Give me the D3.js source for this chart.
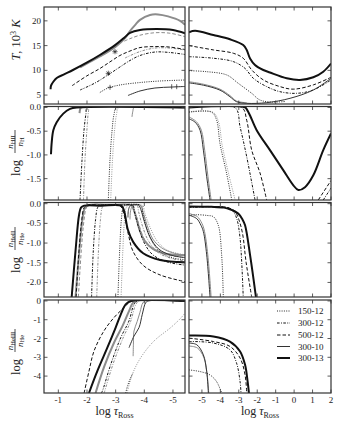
<!DOCTYPE html>
<html><head><meta charset="utf-8">
<script src="https://cdn.jsdelivr.net/npm/d3@7"></script>
<style>body{margin:0;background:#fff}svg{display:block}</style>
</head><body><svg id="c" width="338" height="437"></svg>
<script>
// ---------------- DATA ----------------
const seriesNames = ["150-12","300-12","500-12","300-10","300-13"];
const xTicksLeft = [-1,-2,-3,-4,-5];
const xTicksRight = [-5,-4,-3,-2,-1,0,1,2];
const yTicksT = [5,10,15,20];
const yTicksHII = [0,-0.5,-1,-1.5];
const yTicksHeII = [0,-0.5,-1,-1.5,-2];
const yTicksHeIII = [0,-1,-2,-3,-4];

// each curve: [series, variant, [[log tau, value], ...]]
const tempLeft = [
 ["300-13","alt",[[-1.76,10.6],[-2.1,11.7],[-2.45,12.8],[-2.98,14.7],[-3.33,16.5],[-3.5,17.95],[-3.7,19.3],[-3.85,20.2],[-4.2,21.2],[-4.48,21.3],[-4.83,20.9],[-5.25,20.0],[-5.42,19.2]]],
 ["500-12","alt",[[-3.3,15.9],[-3.5,16.4],[-3.85,17.1],[-4.37,17.6],[-4.9,17.5],[-5.42,16.8]]],
 ["300-12","alt",[[-3.33,12.5],[-3.85,13.8],[-4.37,14.5],[-4.9,14.5],[-5.42,14.1]]],
 ["300-13","main",[[-0.73,6.2],[-0.745,6.9],[-0.825,7.7],[-0.943,8.45],[-1.2,9.2],[-1.51,10.07],[-1.99,11.55],[-2.45,13.1],[-2.98,15.1],[-3.3,16.6],[-3.5,17.55],[-3.85,18.15],[-4.44,18.35],[-5.0,18.15],[-5.42,17.5]]],
 ["500-12","main",[[-1.48,6.9],[-1.99,8.86],[-2.45,10.37],[-2.8,11.7],[-3.15,13.0],[-3.5,13.9],[-3.85,14.6],[-4.37,14.8],[-4.9,14.7],[-5.42,14.2]]],
 ["300-12","main",[[-1.76,6.03],[-2.28,7.44],[-2.73,9.06],[-3.15,10.68],[-3.5,11.99],[-3.85,13.0],[-4.37,13.7],[-4.9,13.6],[-5.42,13.2]]],
 ["150-12","main",[[-2.45,5.52],[-2.73,6.43],[-3.15,7.04],[-3.85,7.54],[-4.55,7.85],[-5.42,8.05]]],
 ["300-10","main",[[-3.43,4.92],[-3.85,5.83],[-4.37,6.43],[-4.97,6.63],[-5.42,6.74]]]
];
const tempRight = [
 ["300-10","alt",[[-5.7,7.7],[-4.92,7.2],[-4.02,6.2],[-3.48,4.9],[-3.12,3.8],[-2.57,3.45]]],
 ["300-13","main",[[-5.7,17.69],[-5.37,18.0],[-4.38,17.14],[-3.48,16.27],[-2.76,15.12],[-2.57,14.1],[-2.39,12.4],[-2.12,11.08],[-1.67,10.07],[-1.31,9.56],[-0.4,8.39],[0.32,8.05],[1.04,8.6],[1.58,9.73],[2.0,11.38]]],
 ["500-12","main",[[-5.7,15.0],[-4.38,14.13],[-3.3,13.46],[-2.76,12.45],[-2.3,10.09],[-1.67,8.07],[-0.77,6.72],[-0.05,6.2],[1.04,7.06],[2.0,8.6]]],
 ["300-12","main",[[-5.7,12.76],[-4.38,12.45],[-3.3,11.77],[-2.67,10.42],[-2.21,8.39],[-1.48,6.7],[-0.77,5.69],[0.14,5.36],[1.04,6.03],[2.0,8.05]]],
 ["150-12","main",[[-5.7,9.93],[-4.74,9.73],[-3.65,9.06],[-3.03,7.38],[-2.3,5.36],[-1.85,4.0],[-1.2,3.6],[-0.5,3.7]]],
 ["300-10","main",[[-5.7,7.47],[-4.92,7.0],[-4.02,6.0],[-3.48,4.67],[-3.12,3.66],[-2.57,3.34],[-1.49,3.47],[-0.22,4.35],[1.04,6.03],[2.0,8.39]]]
];
const hiiLeft = [
 ["300-13","alt",[[-1.74,-0.12],[-1.76,-0.04],[-1.8,0],[-5.42,0]]],
 ["300-12","alt",[[-1.878,-1.95],[-1.93,-1.1],[-2.0,-0.45],[-2.05,-0.1],[-2.1,0],[-5.42,0]]],
 ["150-12","alt",[[-2.827,-1.95],[-2.89,-1.1],[-2.96,-0.5],[-3.03,-0.15],[-3.117,0],[-5.42,0]]],
 ["300-10","alt",[[-3.57,-0.2],[-3.6,-0.08],[-3.65,0],[-5.42,0]]],
 ["300-12","main",[[-1.756,-1.95],[-1.826,-1.11],[-1.896,-0.48],[-1.965,-0.13],[-2.01,0],[-5.42,0]]],
 ["150-12","main",[[-2.744,-1.95],[-2.803,-1.1],[-2.873,-0.5],[-2.943,-0.15],[-3.037,0],[-5.42,0]]],
 ["300-13","main",[[-0.744,-0.985],[-0.77,-0.73],[-0.825,-0.48],[-0.943,-0.31],[-1.173,-0.13],[-1.407,-0.03],[-1.64,0],[-5.42,0]]]
];
const hiiRight = [
 ["150-12","alt",[[-5.7,-0.09],[-4.4,-0.1],[-4.1,-0.3],[-3.9,-0.8],[-3.55,-1.4],[-3.2,-1.95]]],
 ["300-10","alt",[[-5.7,-0.2],[-5.3,-0.3],[-5.03,-0.48],[-4.85,-0.9],[-4.67,-1.46],[-4.5,-1.95]]],
 ["300-10","main",[[-5.7,-0.24],[-5.37,-0.31],[-5.1,-0.48],[-4.92,-0.9],[-4.74,-1.46],[-4.56,-1.95]]],
 ["150-12","main",[[-5.7,-0.1],[-4.47,-0.1],[-4.2,-0.27],[-4.02,-0.76],[-3.66,-1.39],[-3.38,-1.95]]],
 ["300-12","main",[[-5.7,0],[-3.21,0],[-2.93,-0.41],[-2.57,-1.04],[-2.12,-1.95]]],
 ["300-12","main",[[1.58,-1.95],[2.0,-1.7]]],
 ["500-12","main",[[-5.7,0],[-2.84,0],[-2.57,-0.27],[-2.3,-0.9],[-1.85,-1.38],[-1.49,-1.95]]],
 ["500-12","main",[[1.31,-1.95],[2.0,-1.54]]],
 ["300-13","main",[[-5.7,0],[-2.66,0],[-2.55,-0.05],[-2.39,-0.17],[-2.03,-0.48],[-1.31,-0.9],[-0.59,-1.32],[-0.04,-1.64],[0.23,-1.74],[0.59,-1.68],[1.04,-1.43],[1.58,-0.9],[2.0,-0.55]]]
];
const heiiLeft = [
 ["300-13","alt",[[-1.6,-2.37],[-1.72,-1.3],[-1.84,-0.4],[-1.92,-0.12],[-2.05,-0.04],[-2.8,-0.03],[-3.55,-0.04],[-3.6,-0.1],[-3.72,-0.35],[-3.85,-0.7],[-4.02,-0.95],[-4.3,-1.15],[-4.75,-1.27],[-5.42,-1.31]]],
 ["500-12","alt",[[-1.7,-2.37],[-1.8,-1.2],[-1.9,-0.4],[-1.98,-0.1],[-2.1,-0.03],[-2.9,-0.03],[-3.6,-0.04],[-3.65,-0.15],[-3.8,-0.5],[-4.0,-0.9],[-4.3,-1.15],[-4.8,-1.3],[-5.42,-1.37]]],
 ["300-12","alt",[[-2.34,-2.37],[-2.4,-1.2],[-2.47,-0.4],[-2.53,-0.1],[-2.6,-0.04],[-3.2,-0.04],[-3.75,-0.05],[-3.8,-0.2],[-3.95,-0.6],[-4.15,-0.95],[-4.5,-1.25],[-5.0,-1.4],[-5.42,-1.45]]],
 ["150-12","alt",[[-3.19,-2.37],[-3.25,-1.2],[-3.31,-0.4],[-3.37,-0.1],[-3.45,-0.04],[-3.95,-0.05],[-4.0,-0.2],[-4.2,-0.6],[-4.45,-0.95],[-4.8,-1.18],[-5.42,-1.3]]],
 ["300-10","alt",[[-3.5,-0.4],[-3.53,-0.15],[-3.6,-0.05],[-3.85,-0.04],[-3.95,-0.2],[-4.1,-0.55],[-4.3,-0.9],[-4.6,-1.12],[-5.0,-1.25],[-5.42,-1.31]]],
 ["300-10","main",[[-3.43,-0.35],[-3.45,-0.15],[-3.52,-0.05],[-3.8,-0.04],[-3.88,-0.15],[-4.0,-0.45],[-4.2,-0.85],[-4.5,-1.15],[-4.9,-1.3],[-5.42,-1.37]]],
 ["150-12","main",[[-3.08,-2.37],[-3.14,-1.2],[-3.2,-0.4],[-3.26,-0.1],[-3.33,-0.04],[-3.9,-0.05],[-3.95,-0.25],[-4.1,-0.65],[-4.3,-1.0],[-4.6,-1.25],[-5.0,-1.38],[-5.42,-1.42]]],
 ["300-12","main",[[-2.16,-2.37],[-2.22,-1.2],[-2.3,-0.4],[-2.37,-0.1],[-2.45,-0.04],[-3.0,-0.04],[-3.6,-0.05],[-3.65,-0.2],[-3.8,-0.6],[-4.0,-1.0],[-4.3,-1.3],[-4.8,-1.48],[-5.42,-1.56]]],
 ["500-12","main",[[-1.62,-2.37],[-1.72,-1.2],[-1.82,-0.4],[-1.9,-0.1],[-2.0,-0.04],[-2.6,-0.04],[-3.15,-0.05],[-3.3,-0.3],[-3.45,-0.8],[-3.6,-1.2],[-3.95,-1.56],[-4.55,-1.81],[-5.42,-1.98]]],
 ["300-13","main",[[-1.466,-2.37],[-1.6,-1.2],[-1.72,-0.3],[-1.79,-0.1],[-1.9,-0.05],[-2.5,-0.05],[-3.21,-0.06],[-3.3,-0.2],[-3.43,-0.67],[-3.61,-0.97],[-3.96,-1.26],[-4.55,-1.43],[-5.42,-1.49]]]
];
const heiiRight = [
 ["300-10","alt",[[-5.7,-0.25],[-5.25,-0.33],[-5.0,-0.5],[-4.86,-0.7],[-4.68,-1.3],[-4.5,-2.37]]],
 ["300-10","main",[[-5.7,-0.29],[-5.28,-0.38],[-5.05,-0.55],[-4.92,-0.71],[-4.74,-1.3],[-4.56,-2.37]]],
 ["150-12","main",[[-5.7,-0.3],[-5.37,-0.28],[-4.7,-0.3],[-4.38,-0.33],[-4.11,-0.55],[-3.93,-1.3],[-3.84,-2.37]]],
 ["300-12","main",[[-5.7,-0.1],[-3.6,-0.1],[-3.3,-0.2],[-3.11,-0.38],[-2.93,-0.88],[-2.76,-2.37]]],
 ["500-12","main",[[-5.7,-0.08],[-3.6,-0.1],[-3.2,-0.2],[-3.0,-0.4],[-2.8,-0.75],[-2.6,-1.5],[-2.3,-2.37]]],
 ["300-13","main",[[-5.7,-0.07],[-4.5,-0.08],[-3.8,-0.1],[-3.48,-0.14],[-3.03,-0.25],[-2.8,-0.4],[-2.66,-0.55],[-2.39,-1.3],[-2.07,-2.37]]]
];
const heiiiLeft = [
 ["150-12","alt",[[-3.4,-4.9],[-3.58,-3.92],[-3.87,-3.03],[-4.34,-2.13],[-4.92,-1.42],[-5.25,-0.95],[-5.42,-0.65]]],
 ["300-13","alt",[[-2.3,-4.9],[-2.6,-3.5],[-2.95,-2.2],[-3.25,-1.3],[-3.45,-0.6],[-3.6,-0.1],[-3.7,0],[-5.42,0]]],
 ["300-12","alt",[[-2.6,-4.9],[-2.9,-3.4],[-3.25,-2.0],[-3.52,-1.1],[-3.7,-0.2],[-3.82,0],[-5.42,0]]],
 ["300-10","alt",[[-3.61,-2.94],[-3.62,-2.3],[-3.64,-1.6],[-3.75,-1.1],[-3.85,-0.6],[-3.95,-0.1],[-4.05,0],[-5.42,0]]],
 ["300-10","main",[[-3.466,-2.49],[-3.64,-1.87],[-3.815,-1.42],[-3.93,-0.71],[-4.05,-0.09],[-4.15,0],[-5.42,0]]],
 ["150-12","main",[[-3.35,-4.9],[-3.42,-4.5],[-3.52,-4.1],[-3.6,-3.85]]],
 ["300-12","main",[[-2.5,-4.9],[-2.534,-4.81],[-2.827,-3.39],[-3.176,-1.96],[-3.466,-1.06],[-3.64,-0.18],[-3.755,0],[-5.42,0]]],
 ["500-12","main",[[-1.9,-4.9],[-2.07,-3.74],[-2.245,-2.67],[-2.59,-1.6],[-2.94,-0.89],[-3.23,-0.44],[-3.47,-0.09],[-3.6,0],[-5.42,0]]],
 ["300-13","main",[[-2.07,-4.9],[-2.36,-3.74],[-2.71,-2.49],[-3.0,-1.42],[-3.18,-0.71],[-3.35,-0.18],[-3.53,0],[-5.42,0]]]
];
const heiiiRight = [
 ["300-10","alt",[[-5.7,-2.4],[-5.25,-2.5],[-4.9,-3.0],[-4.72,-3.9],[-4.63,-4.9]]],
 ["300-10","main",[[-5.7,-2.24],[-5.28,-2.33],[-4.92,-2.87],[-4.74,-3.76],[-4.65,-4.9]]],
 ["150-12","main",[[-5.7,-3.67],[-5.1,-3.76],[-4.56,-3.94],[-4.2,-4.3],[-3.93,-4.9]]],
 ["300-12","main",[[-5.7,-2.16],[-4.38,-2.24],[-3.48,-2.6],[-3.12,-3.31],[-2.93,-4.3],[-2.88,-4.9]]],
 ["500-12","main",[[-5.7,-1.98],[-4.38,-2.16],[-3.48,-2.42],[-2.93,-3.04],[-2.66,-3.94],[-2.57,-4.9]]],
 ["300-13","main",[[-5.7,-1.84],[-4.38,-1.89],[-3.48,-2.16],[-2.93,-2.69],[-2.66,-3.4],[-2.52,-4.3],[-2.45,-4.9]]]
];
// markers on temperature panel: [log tau, T, kind]
const tempMarkers = [[-2.977,13.77,"star"],[-2.744,9.4,"star"],[-2.803,6.57,"plus"],[-4.956,6.7,"bar"],[-5.13,6.7,"bar"]];

// ---------------- LAYOUT / STYLE ----------------
const svg = d3.select("#c");
const FONT = "'Liberation Serif','DejaVu Serif',serif";
const colL = {x0:44, x1:185, domain:[-0.5,-5.42], ticks:xTicksLeft};
const colR = {x0:189, x1:331, domain:[-5.7,2], ticks:xTicksRight};
const fmt1 = d => d3.format(".1f")(d).replace("\u2212","-");
const fmt0 = d => d3.format("d")(d).replace("\u2212","-");
const rows = [
 {y0:7, y1:104, domain:[3.2,22.8], ticks:yTicksT, fmt:fmt0, left:tempLeft, right:tempRight},
 {y0:106.5, y1:200, domain:[-1.95,0.02], ticks:yTicksHII, fmt:fmt1, left:hiiLeft, right:hiiRight},
 {y0:202.5, y1:297, domain:[-2.37,0.03], ticks:yTicksHeII, fmt:fmt1, left:heiiLeft, right:heiiRight},
 {y0:300, y1:393, domain:[-4.9,0.05], ticks:yTicksHeIII, fmt:fmt0, left:heiiiLeft, right:heiiiRight}
];
const style = {
 "150-12":{w:0.9, dash:"1,1.3"},
 "300-12":{w:1.0, dash:"2.6,1.4,0.9,1.4"},
 "500-12":{w:1.0, dash:"3.5,2"},
 "300-10":{w:1.0, dash:null},
 "300-13":{w:2.0, dash:null}
};
function color(s, v){ if (v==="alt") return "#8c8c8c"; return s==="300-10" ? "#333" : "#111"; }

let clipId = 0;
rows.forEach((r, ri) => {
  [[colL, r.left],[colR, r.right]].forEach(([c, curves], ci) => {
    const x = d3.scaleLinear().domain(c.domain).range([c.x0, c.x1]);
    const y = d3.scaleLinear().domain(r.domain).range([r.y1, r.y0]);
    const id = "clip" + (clipId++);
    svg.append("clipPath").attr("id", id).append("rect")
      .attr("x", c.x0).attr("y", r.y0).attr("width", c.x1-c.x0).attr("height", r.y1-r.y0);
    const g = svg.append("g").attr("clip-path", `url(#${id})`);
    const line = d3.line().x(d=>x(d[0])).y(d=>y(d[1])).curve(d3.curveCatmullRom.alpha(0.5));
    curves.forEach(([s, v, pts]) => {
      const st = style[s];
      g.append("path").attr("d", line(pts)).attr("fill","none")
        .attr("stroke", color(s,v)).attr("stroke-width", st.w)
        .attr("stroke-dasharray", st.dash).attr("stroke-linejoin","round");
    });
    if (ri===0 && ci===0) {
      tempMarkers.forEach(([lt, T, k]) => {
        const px = x(lt), py = y(T);
        const m = g.append("g").attr("stroke","#222").attr("stroke-width",0.7);
        if (k==="star") {
          [0,45,90,135].forEach(a => {
            const r2 = 2.6, rad = a*Math.PI/180;
            m.append("line").attr("x1",px-r2*Math.cos(rad)).attr("y1",py-r2*Math.sin(rad))
              .attr("x2",px+r2*Math.cos(rad)).attr("y2",py+r2*Math.sin(rad));
          });
        } else if (k==="plus") {
          m.append("line").attr("x1",px-2.5).attr("x2",px+2.5).attr("y1",py).attr("y2",py);
          m.append("line").attr("x1",px).attr("x2",px).attr("y1",py-2.5).attr("y2",py+2.5);
        } else {
          m.append("line").attr("x1",px).attr("x2",px).attr("y1",py-2.5).attr("y2",py+2.5);
        }
      });
    }
    // frame
    svg.append("rect").attr("x", c.x0).attr("y", r.y0).attr("width", c.x1-c.x0).attr("height", r.y1-r.y0)
      .attr("fill","none").attr("stroke","#333").attr("stroke-width",1.2);
    // ticks
    const tg = svg.append("g").attr("stroke","#333").attr("stroke-width",0.8);
    c.ticks.forEach(t => {
      const px = x(t);
      tg.append("line").attr("x1",px).attr("x2",px).attr("y1",r.y1).attr("y2",r.y1-3.5);
      tg.append("line").attr("x1",px).attr("x2",px).attr("y1",r.y0).attr("y2",r.y0+3.5);
    });
    r.ticks.forEach(t => {
      const py = y(t);
      tg.append("line").attr("x1",c.x0).attr("x2",c.x0+3.5).attr("y1",py).attr("y2",py);
      tg.append("line").attr("x1",c.x1).attr("x2",c.x1-3.5).attr("y1",py).attr("y2",py);
    });
    if (ci===0) {
      r.ticks.forEach(t => {
        svg.append("text").attr("x", c.x0-3).attr("y", y(t)+3).attr("text-anchor","end")
          .style("font-family",FONT).style("font-size","9px").attr("fill","#222").text(r.fmt(t));
      });
    }
    if (ri===3) {
      c.ticks.forEach(t => {
        svg.append("text").attr("x", x(t)).attr("y", r.y1+10).attr("text-anchor","middle")
          .style("font-family",FONT).style("font-size","9px").attr("fill","#222").text(fmt0(t));
      });
      const tt = svg.append("text").attr("x",(c.x0+c.x1)/2).attr("y",415)
        .attr("text-anchor","middle").style("font-family",FONT).style("font-size","12px").attr("fill","#222");
      tt.append("tspan").text("log ");
      tt.append("tspan").style("font-style","italic").text("\u03C4");
      tt.append("tspan").attr("dy",2.5).style("font-size","8px").text("Ross");
    }
  });
});

// Y axis titles
const tT = svg.append("text").attr("transform","translate(20,40) rotate(-90)").attr("text-anchor","middle")
  .style("font-family",FONT).style("font-size","12.5px").attr("fill","#222");
tT.append("tspan").style("font-style","italic").text("T");
tT.append("tspan").text(", 10");
tT.append("tspan").attr("dy",-4.5).style("font-size","8px").text("3");
tT.append("tspan").attr("dy",4.5).text(" ");
tT.append("tspan").style("font-style","italic").text("K");

function fracLabel(cy, numSub, denSub){
  const g = svg.append("g").attr("transform",`translate(15,${cy}) rotate(-90)`)
    .style("font-family",FONT).attr("fill","#222");
  g.append("text").attr("x",-15).attr("y",5).attr("text-anchor","middle").style("font-size","12.5px").text("log");
  const n = g.append("text").attr("x",11).attr("y",-1.8).attr("text-anchor","middle").style("font-size","9px");
  n.append("tspan").style("font-style","italic").text("n");
  n.append("tspan").attr("dy",1.8).style("font-size","6.5px").text(numSub);
  g.append("line").attr("x1",0).attr("x2",23).attr("y1",0).attr("y2",0).attr("stroke","#222").attr("stroke-width",0.8);
  const d = g.append("text").attr("x",11).attr("y",7.5).attr("text-anchor","middle").style("font-size","9px");
  d.append("tspan").style("font-style","italic").text("n");
  d.append("tspan").attr("dy",1.8).style("font-size","6.5px").text(denSub);
}
fracLabel(153, "HII", "H");
fracLabel(250, "HeII", "He");
fracLabel(352, "HeIII", "He");

// Legend
const legY = [311, 323, 335, 346.5, 358];
seriesNames.forEach((s, i) => {
  const st = style[s];
  svg.append("line").attr("x1",277).attr("x2",290).attr("y1",legY[i]).attr("y2",legY[i])
    .attr("stroke", color(s,"main")).attr("stroke-width", st.w).attr("stroke-dasharray", st.dash);
  svg.append("text").attr("x",298).attr("y",legY[i]+3).style("font-family",FONT).style("font-size","9px")
    .attr("fill","#222").text(s);
});
</script></body></html>
